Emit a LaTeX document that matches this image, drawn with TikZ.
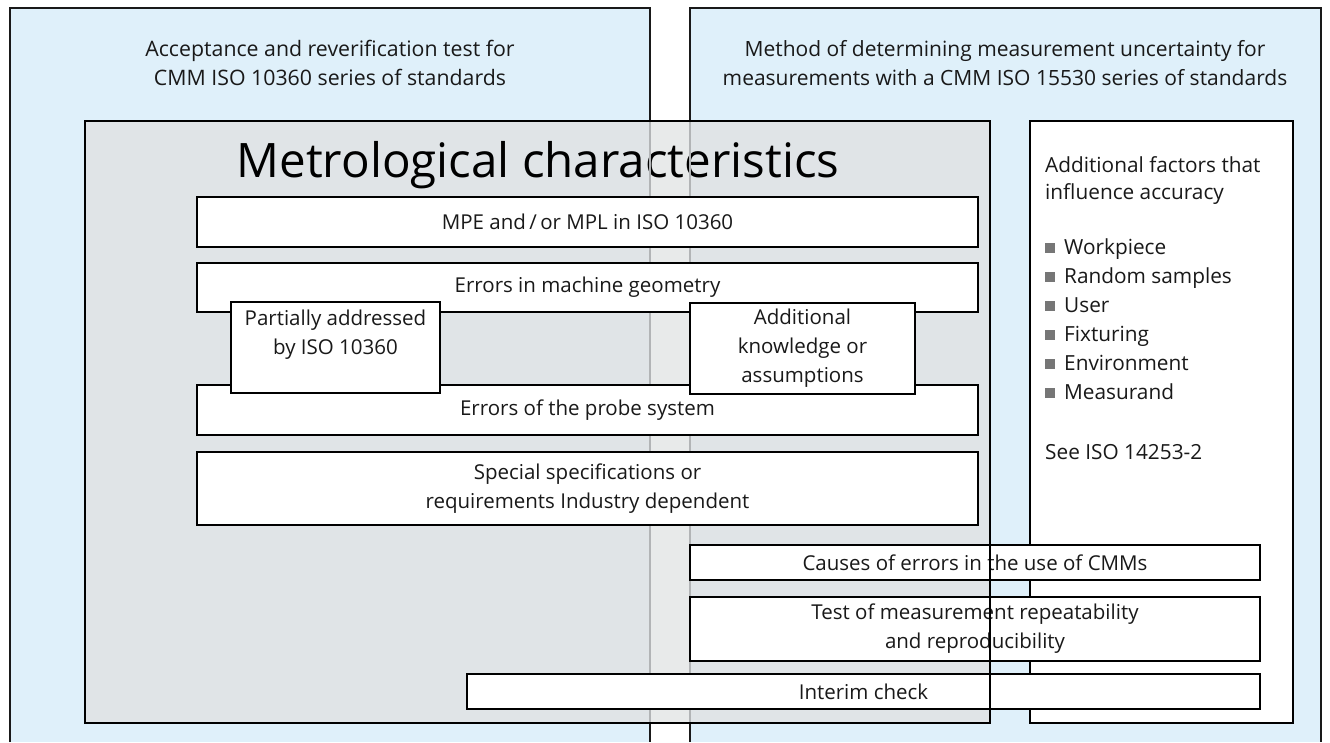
\documentclass[tikz,border=0pt]{standalone}
\usepackage{fontspec}
\setmainfont{Open Sans}
\definecolor{panelblue}{RGB}{223,240,250}
\definecolor{greyfill}{RGB}{224,228,231}
\definecolor{greyband}{RGB}{232,234,234}
\definecolor{greyline}{RGB}{178,180,182}
\definecolor{bulletgrey}{RGB}{118,118,118}
\definecolor{ink}{RGB}{25,25,25}
\begin{document}
\begin{tikzpicture}[x=1pt,y=-1pt,
  txt/.style={font=\fontsize{21.3}{29}\selectfont, text=ink, inner sep=0pt, align=center},
  wbox/.style={draw=black, fill=white, line width=2.4pt, inner sep=0pt, outer sep=0pt,
               font=\fontsize{20.5}{29}\selectfont, text=ink, align=center},
  panel/.style={line width=2pt, draw=black!90},
  bul/.style={fill=bulletgrey},
  item/.style={font=\fontsize{20.8}{29}\selectfont, text=ink, inner sep=0pt, anchor=base west}]
\useasboundingbox (0,0) rectangle (1330,742);

% panels
\fill[panelblue] (10,8) rectangle (650,742);
\fill[panelblue] (690,8) rectangle (1321,742);
\draw[panel] (10,742) -- (10,8) -- (650,8) -- (650,742);
\draw[panel] (690,742) -- (690,8) -- (1321,8) -- (1321,742);
\node[txt] (hleft) at (330,63) {Acceptance and reverification test for\\CMM ISO 10360 series of standards};
\node[txt, font=\fontsize{21}{29}\selectfont] (hright) at (1005,63) {Method of determining measurement uncertainty for\\measurements with a CMM ISO 15530 series of standards};

% grey metrological box (fill)
\fill[greyfill] (85,121) rectangle (990,723);
\fill[greyband] (650,121) rectangle (690,723);
\node[font=\fontsize{47.5}{52}\selectfont, text=black, inner sep=0pt, anchor=base] (title) at (538,177) {Metrological characteristics};
\draw[greyline, line width=2pt] (650,121) -- (650,723);
\draw[greyline, line width=2pt] (690,121) -- (690,723);

% boxes inside
\node[wbox, minimum width=781, minimum height=50] (mpe) at (587.5,222) {MPE and\,/\,or MPL in ISO 10360};
\node[wbox, minimum width=781, minimum height=49] (geom) at (587.5,287.5) {\raisebox{5pt}{Errors in machine geometry}};
\node[wbox, minimum width=781, minimum height=50] (probe) at (587.5,410) {\raisebox{-5pt}{Errors of the probe system}};
\node[wbox, minimum width=781, minimum height=73] (special) at (587.5,488.5) {Special specifications or\\requirements Industry dependent};
\node[wbox, minimum width=209, minimum height=91] (part) at (335.5,347.5) {};
\node[txt, font=\fontsize{20.5}{29}\selectfont] (partT) at (335.5,335) {Partially addressed\\by ISO 10360};
\node[wbox, minimum width=225, minimum height=91] (know) at (802.5,348.5) {Additional\\knowledge or\\assumptions};

% additional factors box
\node[wbox, minimum width=263, minimum height=602] (factors) at (1161.5,422) {};
\node[item] (factT1) at (1045,172) {Additional factors that};
\node[item] (factT2) at (1045,199) {influence accuracy};
\foreach \y/\t [count=\i] in {254/Workpiece,283/Random samples,312/User,341/Fixturing,370/Environment,399/Measurand}{
  \fill[bul] (1045,\y-11.5) rectangle (1055,\y-1.5);
  \node[item] (it\i) at (1064,\y) {\t};
}
\node[item] (see) at (1045,459) {See ISO 14253-2};

% lower boxes
\node[wbox, minimum width=570, minimum height=35] (causes) at (975,562.5) {Causes of errors in the use of CMMs};
\node[wbox, minimum width=570, minimum height=64] (test) at (975,629) {Test of measurement repeatability\\and reproducibility};
\node[wbox, minimum width=793, minimum height=35] (interim) at (863.5,691.5) {Interim check};

% grey box border on top
\draw[line width=2.6pt, black] (85,121) rectangle (990,723);
\end{tikzpicture}
\end{document}
